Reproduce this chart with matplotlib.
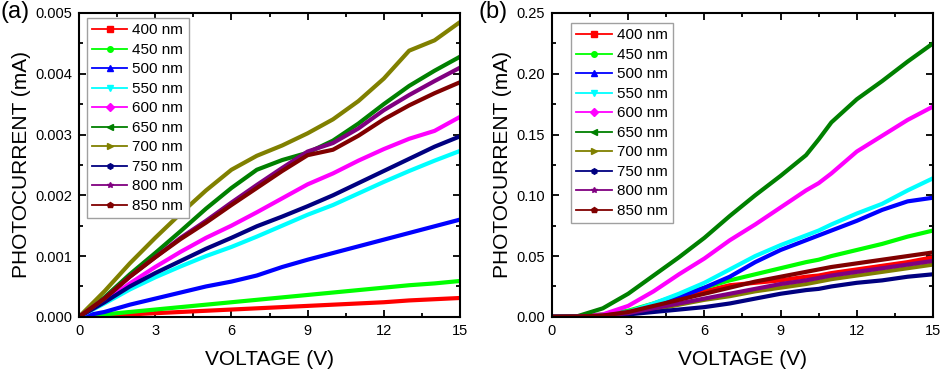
import matplotlib
matplotlib.use("Agg")
import matplotlib.pyplot as plt
from matplotlib.lines import Line2D
from matplotlib.ticker import MultipleLocator, FormatStrFormatter

plt.rcParams["font.family"] = ["Liberation Sans", "DejaVu Sans"]

# ---- data -----------------------------------------------------------------
wavelengths = ["400 nm", "450 nm", "500 nm", "550 nm", "600 nm",
               "650 nm", "700 nm", "750 nm", "800 nm", "850 nm"]
colors = ["#ff0000", "#00ff00", "#0000ff", "#00ffff", "#ff00ff",
          "#008000", "#808000", "#000080", "#800080", "#800000"]
markers = ["s", "o", "^", "v", "D", "<", ">", "h", "*", "p"]

# panel (a): photocurrent in units of 1e-3 mA
volt_a = [0, 1, 2, 3, 4, 5, 6, 7, 8, 9, 10, 11, 12, 13, 14, 15]
cur_a_400 = [0, 0.02, 0.04, 0.06, 0.08, 0.10, 0.12, 0.14, 0.16, 0.18, 0.20, 0.22, 0.24, 0.27, 0.29, 0.31]
cur_a_450 = [0, 0.04, 0.08, 0.12, 0.16, 0.20, 0.24, 0.28, 0.32, 0.36, 0.40, 0.44, 0.48, 0.52, 0.55, 0.59]
cur_a_500 = [0, 0.08, 0.20, 0.30, 0.40, 0.50, 0.58, 0.68, 0.82, 0.94, 1.05, 1.16, 1.27, 1.38, 1.49, 1.60]
cur_a_550 = [0, 0.22, 0.45, 0.65, 0.83, 1.00, 1.15, 1.32, 1.50, 1.68, 1.84, 2.03, 2.22, 2.40, 2.57, 2.73]
cur_a_600 = [0, 0.25, 0.55, 0.82, 1.07, 1.30, 1.50, 1.72, 1.95, 2.18, 2.36, 2.57, 2.76, 2.93, 3.06, 3.29]
cur_a_650 = [0, 0.32, 0.70, 1.05, 1.41, 1.78, 2.12, 2.42, 2.58, 2.70, 2.90, 3.18, 3.50, 3.80, 4.05, 4.28]
cur_a_700 = [0, 0.42, 0.88, 1.30, 1.70, 2.08, 2.42, 2.65, 2.82, 3.02, 3.25, 3.55, 3.92, 4.38, 4.55, 4.85]
cur_a_750 = [0, 0.24, 0.50, 0.72, 0.92, 1.12, 1.30, 1.49, 1.65, 1.82, 2.00, 2.20, 2.40, 2.60, 2.80, 2.97]
cur_a_800 = [0, 0.30, 0.66, 0.98, 1.30, 1.58, 1.88, 2.17, 2.45, 2.72, 2.86, 3.10, 3.40, 3.65, 3.88, 4.10]
cur_a_850 = [0, 0.30, 0.66, 0.98, 1.28, 1.55, 1.84, 2.12, 2.40, 2.66, 2.75, 2.98, 3.25, 3.48, 3.68, 3.86]

# panel (b): photocurrent in mA
volt_b = [0, 1, 2, 3, 4, 5, 6, 7, 8, 9, 10, 10.5, 11, 12, 13, 14, 15]
cur_b_400 = [0, 0.0002, 0.001, 0.004, 0.009, 0.016, 0.021, 0.026, 0.028, 0.030, 0.033, 0.034, 0.036, 0.039, 0.042, 0.045, 0.049]
cur_b_450 = [0, 0.0003, 0.002, 0.005, 0.011, 0.018, 0.024, 0.030, 0.035, 0.040, 0.045, 0.047, 0.050, 0.055, 0.060, 0.066, 0.071]
cur_b_500 = [0, 0.0002, 0.001, 0.004, 0.009, 0.016, 0.024, 0.033, 0.045, 0.055, 0.063, 0.067, 0.071, 0.079, 0.088, 0.095, 0.098]
cur_b_550 = [0, 0.0002, 0.001, 0.004, 0.011, 0.019, 0.028, 0.039, 0.050, 0.059, 0.067, 0.071, 0.076, 0.085, 0.093, 0.104, 0.114]
cur_b_600 = [0, 0.0003, 0.002, 0.009, 0.021, 0.035, 0.048, 0.063, 0.076, 0.090, 0.104, 0.110, 0.118, 0.136, 0.149, 0.162, 0.173]
cur_b_650 = [0, 0.0005, 0.007, 0.019, 0.034, 0.049, 0.065, 0.083, 0.100, 0.116, 0.133, 0.146, 0.160, 0.179, 0.194, 0.210, 0.225]
cur_b_700 = [0, 0.0002, 0.001, 0.003, 0.006, 0.010, 0.014, 0.017, 0.021, 0.024, 0.027, 0.029, 0.031, 0.034, 0.037, 0.040, 0.043]
cur_b_750 = [0, 0.0001, 0.0008, 0.002, 0.004, 0.006, 0.008, 0.011, 0.015, 0.019, 0.022, 0.023, 0.025, 0.028, 0.030, 0.033, 0.035]
cur_b_800 = [0, 0.0002, 0.001, 0.003, 0.007, 0.011, 0.015, 0.019, 0.023, 0.027, 0.030, 0.032, 0.034, 0.037, 0.040, 0.043, 0.046]
cur_b_850 = [0, 0.0002, 0.001, 0.004, 0.009, 0.014, 0.019, 0.024, 0.029, 0.033, 0.037, 0.039, 0.041, 0.044, 0.047, 0.050, 0.053]

series_a = [cur_a_400, cur_a_450, cur_a_500, cur_a_550, cur_a_600,
            cur_a_650, cur_a_700, cur_a_750, cur_a_800, cur_a_850]
series_b = [cur_b_400, cur_b_450, cur_b_500, cur_b_550, cur_b_600,
            cur_b_650, cur_b_700, cur_b_750, cur_b_800, cur_b_850]

# ---- figure ---------------------------------------------------------------
fig = plt.figure(figsize=(9.41, 3.71), dpi=100)
ax_a = fig.add_axes([0.084, 0.146, 0.4048, 0.819])
ax_b = fig.add_axes([0.5866, 0.146, 0.4049, 0.819])


def style_axis(ax, ymax, ystep, fmt):
    ax.set_xlim(0, 15)
    ax.set_ylim(0, ymax)
    ax.xaxis.set_major_locator(MultipleLocator(3))
    ax.xaxis.set_minor_locator(MultipleLocator(1.5))
    ax.yaxis.set_major_locator(MultipleLocator(ystep))
    ax.yaxis.set_minor_locator(MultipleLocator(ystep / 2))
    ax.yaxis.set_major_formatter(FormatStrFormatter(fmt))
    ax.tick_params(which="both", direction="in", top=True, right=True,
                   width=1.3, labelsize=10.5, pad=5)
    ax.tick_params(which="major", length=5)
    ax.tick_params(which="minor", length=3)
    for sp in ax.spines.values():
        sp.set_linewidth(1.5)
    ax.set_xlabel("VOLTAGE (V)", fontsize=15, labelpad=9)
    ax.set_ylabel("PHOTOCURRENT (mA)", fontsize=15, labelpad=3)


for vals, c in zip(series_a, colors):
    ax_a.plot(volt_a, [v * 1e-3 for v in vals], color=c, lw=3, solid_capstyle="butt")
for vals, c in zip(series_b, colors):
    ax_b.plot(volt_b, vals, color=c, lw=3, solid_capstyle="butt")

style_axis(ax_a, 0.005, 0.001, "%.3f")
style_axis(ax_b, 0.25, 0.05, "%.2f")

handles = [Line2D([0], [0], color=c, marker=m, markersize=4, lw=1.3)
           for c, m in zip(colors, markers)]
for ax, anchor in [(ax_a, (0.02, 0.983)), (ax_b, (0.05, 0.967))]:
    leg = ax.legend(handles, wavelengths, loc="upper left", bbox_to_anchor=anchor,
                    fontsize=11, frameon=True, fancybox=False, framealpha=1,
                    edgecolor="#a0a0a0", handlelength=2.3, handletextpad=0.35,
                    labelspacing=0.36, borderpad=0.35, borderaxespad=0,
                    numpoints=1)
    leg.get_frame().set_linewidth(1.0)

fig.text(0.0, 0.998, "(a)", fontsize=17, va="top", ha="left")
fig.text(0.508, 0.998, "(b)", fontsize=17, va="top", ha="left")

fig.savefig("out.png", dpi=100)
